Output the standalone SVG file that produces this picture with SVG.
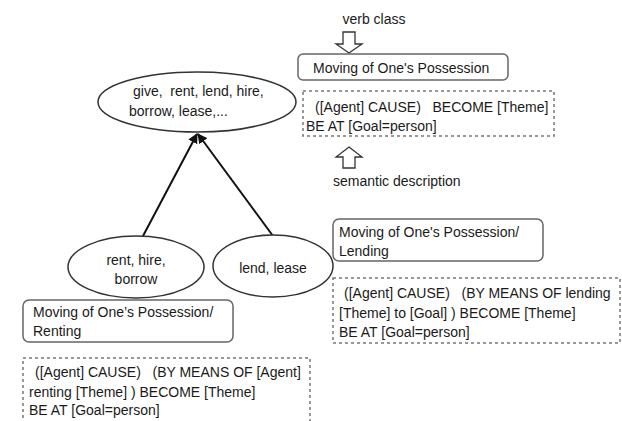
<svg xmlns="http://www.w3.org/2000/svg" width="622" height="421" viewBox="0 0 622 421">
<style>
text{font-family:"Liberation Sans",Arial,sans-serif;font-size:14px;fill:#1a1a1a;white-space:pre}
.ell{fill:#fff;stroke:#333;stroke-width:1.5}
.box{fill:#fff;stroke:#666;stroke-width:1.5}
.dash{fill:#fff;stroke:#777;stroke-width:1.5;stroke-dasharray:3 3}
.conn{stroke:#111;stroke-width:2;fill:none}
.hollow{fill:#fff;stroke:#333;stroke-width:1.3}
.c{text-anchor:middle}
</style>
<defs>
<marker id="ah" viewBox="0 0 10 10" refX="9" refY="5" markerWidth="5" markerHeight="5" orient="auto">
<path d="M0,0 L10,5 L0,10 z" fill="#111"/>
</marker>
</defs>
<rect width="622" height="421" fill="#fff"/>
<g id="connectors">
<line class="conn" x1="143" y1="236" x2="197" y2="134" marker-end="url(#ah)"/>
<line class="conn" x1="273" y1="236" x2="198" y2="134" marker-end="url(#ah)"/>
</g>
<g id="legend-verb-class">
<text class="c" x="374" y="24">verb class</text>
<path class="hollow" d="M343,32 H355 V44 H362 L349,53 L336,44 H343 Z"/>
</g>
<g id="top-class">
<rect class="box" x="298" y="54" width="210" height="26" rx="5"/>
<text x="313" y="73">Moving of One's Possession</text>
</g>
<g id="top-desc">
<rect class="dash" x="303" y="91" width="251" height="45"/>
<text x="315" y="112">([Agent] CAUSE)   BECOME [Theme]</text>
<text x="306" y="131">BE AT [Goal=person]</text>
</g>
<g id="legend-semantic">
<path class="hollow" d="M349,147 L362,157 H355 V168 H343 V157 H336 Z"/>
<text x="333" y="186">semantic description</text>
</g>
<g id="top-ellipse">
<ellipse class="ell" cx="197" cy="102" rx="99" ry="30"/>
<text x="133" y="96">give,  rent, lend, hire,</text>
<text x="129" y="116">borrow, lease,...</text>
</g>
<g id="rent-ellipse">
<ellipse class="ell" cx="136" cy="267" rx="68" ry="31"/>
<text class="c" x="136" y="265">rent, hire,</text>
<text class="c" x="136" y="284">borrow</text>
</g>
<g id="lend-ellipse">
<ellipse class="ell" cx="273" cy="266" rx="60" ry="31"/>
<text class="c" x="273" y="273">lend, lease</text>
</g>
<g id="lend-class">
<rect class="box" x="333" y="219" width="210" height="42" rx="6"/>
<text x="339" y="237">Moving of One's Possession/</text>
<text x="339" y="256">Lending</text>
</g>
<g id="lend-desc">
<rect class="dash" x="333" y="278" width="287" height="65"/>
<text x="344" y="298">([Agent] CAUSE)   (BY MEANS OF lending</text>
<text x="339" y="318">[Theme] to [Goal] ) BECOME [Theme]</text>
<text x="339" y="337">BE AT [Goal=person]</text>
</g>
<g id="rent-class">
<rect class="box" x="23" y="300" width="210" height="42" rx="6"/>
<text x="33" y="317">Moving of One’s Possession/</text>
<text x="33" y="336">Renting</text>
</g>
<g id="rent-desc">
<rect class="dash" x="23" y="358" width="287" height="70"/>
<text x="35" y="377">([Agent] CAUSE)   (BY MEANS OF [Agent]</text>
<text x="29" y="397">renting [Theme] ) BECOME [Theme]</text>
<text x="29" y="415">BE AT [Goal=person]</text>
</g>
</svg>
